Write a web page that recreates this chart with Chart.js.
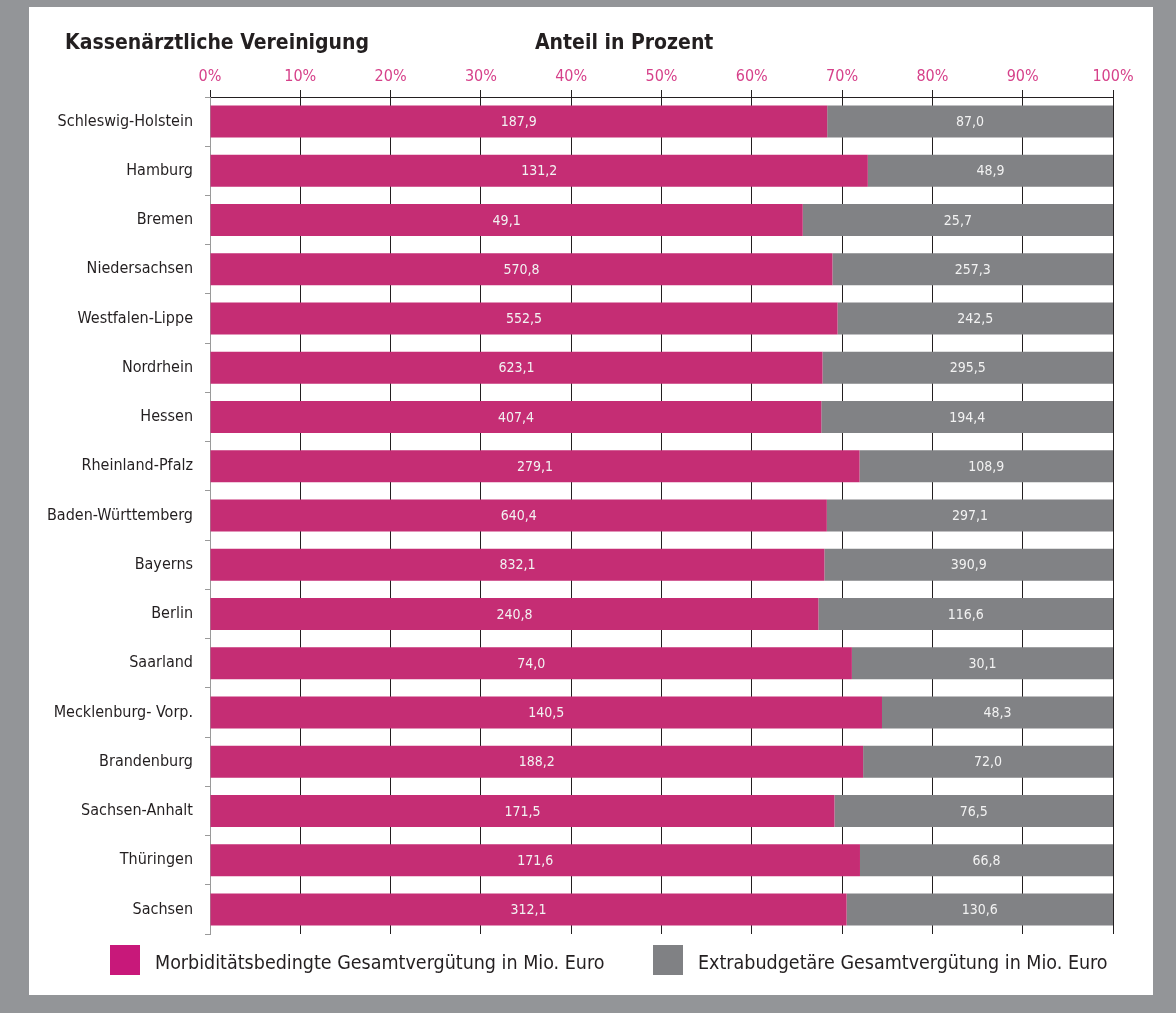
<!DOCTYPE html>
<html lang="de">
<head>
<meta charset="utf-8">
<script src="https://cdn.jsdelivr.net/npm/chart.js@4/dist/chart.umd.min.js"></script>
<style>
  body { margin: 0; width: 1176px; height: 1013px; overflow: hidden; background: #939598;
         font-family: "Liberation Sans Narrow", "DejaVu Sans Condensed", sans-serif; }
  #panel { position: absolute; left: 29px; top: 7px; width: 1124px; height: 988px; background: #fff; }
  #panel canvas { position: absolute; left: 0; top: 0; }
  .title { position: absolute; font-weight: bold; font-size: 21px; color: #231f20; line-height: 1; }
  .legend { position: absolute; top: 938px; height: 30px; display: flex; align-items: center; }
  .legend span.box { width: 30px; height: 30px; margin-right: 15px; }
  .legend span.txt { font-size: 19.5px; color: #231f20; padding-top: 4px; }
</style>
</head>
<body>
<div id="panel">
  <canvas id="chart" width="1124" height="988"></canvas>
  <div class="title" style="left:36px; top:25px;">Kassenärztliche Vereinigung</div>
  <div class="title" style="left:506px; top:25px;">Anteil in Prozent</div>
  <div class="legend" style="left:81px;"><span class="box" style="background:#c8187a"></span><span class="txt">Morbiditätsbedingte Gesamtvergütung in Mio. Euro</span></div>
  <div class="legend" style="left:624px;"><span class="box" style="background:#808184"></span><span class="txt">Extrabudgetäre Gesamtvergütung in Mio. Euro</span></div>
</div>
<script>
// Kassenärztliche Vereinigungen
const regions = ['Schleswig-Holstein', 'Hamburg', 'Bremen', 'Niedersachsen', 'Westfalen-Lippe',
  'Nordrhein', 'Hessen', 'Rheinland-Pfalz', 'Baden-Württemberg', 'Bayerns', 'Berlin', 'Saarland',
  'Mecklenburg- Vorp.', 'Brandenburg', 'Sachsen-Anhalt', 'Thüringen', 'Sachsen'];

// Mio. Euro
const morbiValues = [187.9, 131.2, 49.1, 570.8, 552.5, 623.1, 407.4, 279.1, 640.4, 832.1,
  240.8, 74.0, 140.5, 188.2, 171.5, 171.6, 312.1];
const extraValues = [87.0, 48.9, 25.7, 257.3, 242.5, 295.5, 194.4, 108.9, 297.1, 390.9,
  116.6, 30.1, 48.3, 72.0, 76.5, 66.8, 130.6];

const percentTicks = [0, 10, 20, 30, 40, 50, 60, 70, 80, 90, 100];

// Anteil in Prozent je Zeile
const morbiShare = morbiValues.map((v, i) => v / (v + extraValues[i]) * 100);
const extraShare = extraValues.map((v, i) => v / (morbiValues[i] + v) * 100);

const fmt = v => v.toFixed(1).replace('.', ',');
const FONT = '"Liberation Sans Narrow", "DejaVu Sans Condensed", sans-serif';

const barLabels = {
    id: 'barLabels',
    afterDatasetsDraw(chart) {
        const ctx = chart.ctx;
        const raw = [morbiValues, extraValues];
        ctx.save();
        ctx.font = '14px ' + FONT;
        ctx.fillStyle = '#f2f2f2';
        ctx.textAlign = 'center';
        ctx.textBaseline = 'middle';
        chart.data.datasets.forEach((ds, di) => {
            chart.getDatasetMeta(di).data.forEach((bar, i) => {
                ctx.fillText(fmt(raw[di][i]), (bar.x + bar.base) / 2, bar.y + 1);
            });
        });
        ctx.restore();
    }
};

new Chart(document.getElementById('chart'), {
    type: 'bar',
    data: {
        labels: regions,
        datasets: [
            { label: 'Morbiditätsbedingte Gesamtvergütung in Mio. Euro', data: morbiShare, backgroundColor: '#c52d74' },
            { label: 'Extrabudgetäre Gesamtvergütung in Mio. Euro', data: extraShare, backgroundColor: '#818285' }
        ]
    },
    options: {
        indexAxis: 'y',
        responsive: false,
        animation: false,
        categoryPercentage: 1,
        barPercentage: 0.65,
        layout: { padding: { left: 0, right: 40, top: 0, bottom: 61 } },
        plugins: { legend: { display: false }, tooltip: { enabled: false } },
        scales: {
            x: {
                position: 'top',
                stacked: true,
                min: 0,
                max: 100,
                afterBuildTicks: s => { s.ticks = percentTicks.map(v => ({ value: v })); },
                afterFit: s => { s.height = 90; },
                ticks: {
                    callback: v => v + '%',
                    color: '#d6418a',
                    font: { family: FONT, size: 16 },
                    padding: 4
                },
                grid: { color: '#231f20', lineWidth: 1, tickLength: 7 },
                border: { color: '#231f20' }
            },
            y: {
                stacked: true,
                afterFit: s => { s.width = 181; },
                ticks: {
                    color: '#231f20',
                    font: { family: FONT, size: 16 },
                    padding: 12
                },
                grid: { drawOnChartArea: false, offset: true, tickLength: 5, color: '#9a9a9a' },
                border: { color: '#9a9a9a' }
            }
        }
    },
    plugins: [barLabels]
});
</script>
</body>
</html>
